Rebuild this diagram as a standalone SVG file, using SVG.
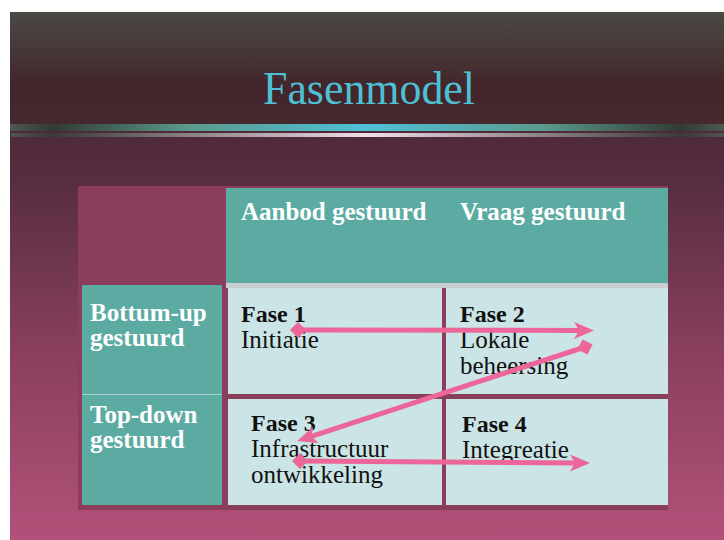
<svg xmlns="http://www.w3.org/2000/svg" width="724" height="540" viewBox="0 0 724 540">
<defs>
<linearGradient id="hdr" x1="0" y1="12" x2="0" y2="124" gradientUnits="userSpaceOnUse">
<stop offset="0" stop-color="#4b4a45"/>
<stop offset="0.65" stop-color="#42262b"/>
<stop offset="1" stop-color="#46282f"/>
</linearGradient>
<linearGradient id="body" x1="0" y1="124" x2="0" y2="540" gradientUnits="userSpaceOnUse">
<stop offset="0" stop-color="#4d2a38"/>
<stop offset="0.12" stop-color="#552c40"/>
<stop offset="0.55" stop-color="#8a3f5e"/>
<stop offset="1" stop-color="#b25179"/>
</linearGradient>
<linearGradient id="bar" x1="10" y1="0" x2="724" y2="0" gradientUnits="userSpaceOnUse">
<stop offset="0" stop-color="#4c5a52"/>
<stop offset="0.06" stop-color="#323a34"/>
<stop offset="0.25" stop-color="#5a9a8c"/>
<stop offset="0.5" stop-color="#4fc0d8"/>
<stop offset="0.75" stop-color="#5a9a8c"/>
<stop offset="0.94" stop-color="#323a34"/>
<stop offset="1" stop-color="#4c5a52"/>
</linearGradient>
<linearGradient id="thin" x1="10" y1="0" x2="724" y2="0" gradientUnits="userSpaceOnUse">
<stop offset="0" stop-color="#4f5550"/>
<stop offset="0.06" stop-color="#3a3a36"/>
<stop offset="0.5" stop-color="#f4dcea"/>
<stop offset="0.94" stop-color="#3a3a36"/>
<stop offset="1" stop-color="#4f5550"/>
</linearGradient>
<marker id="head" markerUnits="userSpaceOnUse" viewBox="-21 -10 22 20" refX="-12" refY="0" markerWidth="22" markerHeight="20" orient="auto">
<path d="M0,0 L-20,-8.5 L-15,0 L-20,8.5 Z" fill="#ec6699"/>
</marker>
<marker id="diamond" markerUnits="userSpaceOnUse" viewBox="-9 -9 18 18" refX="0" refY="0" markerWidth="18" markerHeight="18" orient="auto">
<path d="M-8,0 L0,-8 L8,0 L0,8 Z" fill="#ec6699"/>
</marker>
<style>
.hd{font-family:"Liberation Serif",serif;font-weight:bold;font-size:25px;fill:#ffffff}
.fb{font-family:"Liberation Serif",serif;font-weight:bold;font-size:24px;fill:#111111}
.fr{font-family:"Liberation Serif",serif;font-size:25px;fill:#111111}
.teal{fill:#5caba2}
.cell{fill:#cbe4e5}
.arr{fill:none;stroke:#ec6699;stroke-width:5;marker-start:url(#diamond);marker-end:url(#head)}
</style>
</defs>
<rect x="0" y="0" width="724" height="540" fill="#ffffff"/>
<rect x="10" y="12" width="714" height="112" fill="url(#hdr)"/>
<rect x="10" y="124" width="714" height="416" fill="url(#body)"/>
<rect x="10" y="124" width="714" height="7" fill="url(#bar)"/>
<rect x="11" y="133" width="713" height="4" fill="url(#thin)"/>
<text x="263" y="104" textLength="212" lengthAdjust="spacingAndGlyphs" font-family="Liberation Serif, serif" font-size="47" fill="#4ec0d4">Fasenmodel</text>

<g id="table-frame">
<rect x="78" y="186" width="590" height="324" fill="#8b3e5b"/>
</g>
<g id="header-aanbod">
<rect x="226" y="188" width="218" height="95" class="teal"/>
<text class="hd" x="241" y="220">Aanbod gestuurd</text>
</g>
<g id="header-vraag">
<rect x="444" y="188" width="224" height="95" class="teal"/>
<text class="hd" x="460" y="220">Vraag gestuurd</text>
</g>
<rect x="226" y="283" width="442" height="5" fill="#c9cdcd"/>
<g id="row-bottomup">
<rect x="82" y="285" width="140" height="109" class="teal"/>
<text class="hd" x="90" y="321">Bottum-up</text>
<text class="hd" x="90" y="346">gestuurd</text>
</g>
<g id="row-topdown">
<rect x="82" y="394" width="140" height="111" class="teal"/>
<line x1="82" y1="394.5" x2="222" y2="394.5" stroke="#a9d0ca" stroke-width="1"/>
<text class="hd" x="90" y="423">Top-down</text>
<text class="hd" x="90" y="448">gestuurd</text>
</g>
<g id="fase1">
<rect x="228" y="288" width="214" height="106" class="cell"/>
<text class="fb" x="241" y="322">Fase 1</text>
<text class="fr" x="241" y="348">Initiatie</text>
</g>
<g id="fase2">
<rect x="446" y="288" width="222" height="106" class="cell"/>
<text class="fb" x="460" y="322">Fase 2</text>
<text class="fr" x="460" y="348">Lokale</text>
<text class="fr" x="460" y="374">beheersing</text>
</g>
<g id="fase3">
<rect x="228" y="399" width="214" height="106" class="cell"/>
<text class="fb" x="251" y="431">Fase 3</text>
<text class="fr" x="251" y="457">Infrastructuur</text>
<text class="fr" x="251" y="483">ontwikkeling</text>
</g>
<g id="fase4">
<rect x="446" y="399" width="222" height="106" class="cell"/>
<text class="fb" x="462" y="432">Fase 4</text>
<text class="fr" x="462" y="458">Integreatie</text>
</g>
<g id="connectors">
<path class="arr" d="M298,330 L582,330.5"/>
<path class="arr" d="M585,347 L308.4,437.3"/>
<path class="arr" d="M300,461 L578,463"/>
</g>
</svg>
